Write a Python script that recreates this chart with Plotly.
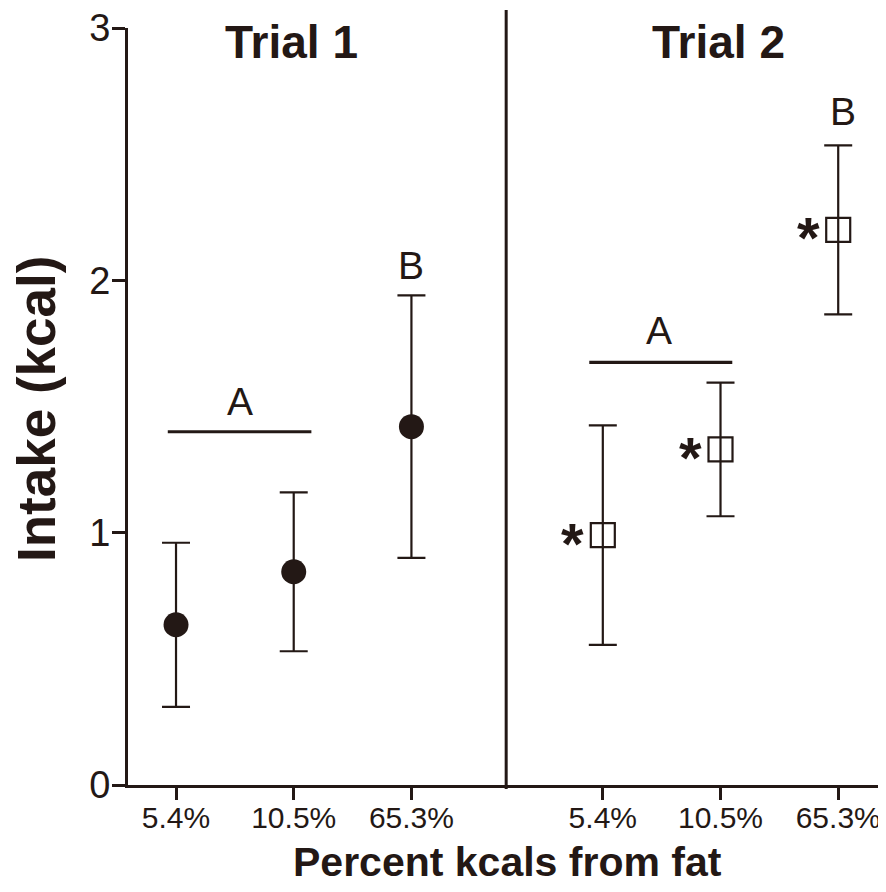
import plotly.graph_objects as go

# ---- data ----
categories = ["5.4%", "10.5%", "65.3%"]
trial_titles = ["Trial 1", "Trial 2"]

trial1_mean = [0.635, 0.845, 1.42]
trial1_err = [0.325, 0.315, 0.52]

trial2_mean = [0.99, 1.33, 2.20]
trial2_err = [0.435, 0.265, 0.335]

# significance groups
t1_letters = ["A", "B"]
t2_letters = ["A", "B"]
t1_sig_line_y = 1.40
t2_sig_line_y = 1.675

y_ticks = [0, 1, 2, 3]

# ---- layout helpers ----
INK = "#231815"
FONT = "Liberation Sans, Arial, sans-serif"
x_t1 = [0, 1, 2]
gap = 3.626
x_t2 = [v + gap for v in x_t1]
divider_x = 2.805
x_min, x_max = -0.408, 6.032

fig = go.Figure()

fig.add_trace(go.Scatter(
    x=x_t1, y=trial1_mean, mode="markers",
    marker=dict(symbol="circle", size=25, color=INK, line=dict(width=0)),
    error_y=dict(type="data", array=trial1_err, visible=True, color=INK,
                 thickness=2.2, width=14),
    showlegend=False, cliponaxis=False,
))
fig.add_trace(go.Scatter(
    x=x_t2, y=trial2_mean, mode="markers",
    marker=dict(symbol="square", size=24, color="rgba(255,255,255,0)",
                line=dict(width=2.2, color=INK)),
    error_y=dict(type="data", array=trial2_err, visible=True, color=INK,
                 thickness=2.2, width=14),
    showlegend=False, cliponaxis=False,
))

shapes = []
px_w = 886 - 128
px_h = 785 - 28
# divider
shapes.append(dict(type="line", xref="paper", yref="paper",
                   x0=(divider_x - x_min) / (x_max - x_min),
                   x1=(divider_x - x_min) / (x_max - x_min),
                   y0=-4 / px_h, y1=1 + 18 / px_h,
                   line=dict(color=INK, width=3)))
# significance lines
shapes.append(dict(type="line", xref="x", yref="y",
                   x0=x_t1[0] - 0.07, x1=x_t1[1] + 0.15,
                   y0=t1_sig_line_y, y1=t1_sig_line_y,
                   line=dict(color=INK, width=3.2)))
shapes.append(dict(type="line", xref="x", yref="y",
                   x0=x_t2[0] - 0.115, x1=x_t2[1] + 0.1,
                   y0=t2_sig_line_y, y1=t2_sig_line_y,
                   line=dict(color=INK, width=3.2)))

ann = []
# panel titles
for tx, xc in zip(trial_titles, [291, 718]):
    ann.append(dict(text="<b>%s</b>" % tx, xref="paper", yref="paper",
                    x=(xc - 128) / px_w, y=(785 - 42) / px_h,
                    xanchor="center", yanchor="middle", showarrow=False,
                    font=dict(family=FONT, size=46, color=INK)))
# letters
letter_font = dict(family=FONT, size=39, color=INK)
ann.append(dict(text=t1_letters[0], x=(x_t1[0] + x_t1[1]) / 2 + 0.04,
                y=t1_sig_line_y, yshift=30, xref="x", yref="y",
                showarrow=False, yanchor="middle", font=letter_font))
ann.append(dict(text=t1_letters[1], x=x_t1[2],
                y=trial1_mean[2] + trial1_err[2], yshift=30,
                xref="x", yref="y", showarrow=False, yanchor="middle",
                font=letter_font))
ann.append(dict(text=t2_letters[0], x=(x_t2[0] + x_t2[1]) / 2 - 0.02,
                y=t2_sig_line_y, yshift=32, xref="x", yref="y",
                showarrow=False, yanchor="middle", font=letter_font))
ann.append(dict(text=t2_letters[1], x=x_t2[2] + 0.04,
                y=trial2_mean[2] + trial2_err[2], yshift=34,
                xref="x", yref="y", showarrow=False, yanchor="middle",
                font=letter_font))
# asterisks
for xv, yv in zip(x_t2, trial2_mean):
    ann.append(dict(text="<b>*</b>", x=xv, y=yv, xshift=-30, yshift=-8,
                    xref="x", yref="y", showarrow=False,
                    xanchor="center", yanchor="middle",
                    font=dict(family=FONT, size=58, color=INK)))
# axis titles
ann.append(dict(text="<b>Intake (kcal)</b>", xref="paper", yref="paper",
                x=(37 - 128) / px_w, y=(785 - 409) / px_h, textangle=-90,
                xanchor="center", yanchor="middle", showarrow=False,
                font=dict(family=FONT, size=53, color=INK)))
ann.append(dict(text="<b>Percent kcals from fat</b>", xref="paper", yref="paper",
                x=(507 - 128) / px_w, y=(785 - 862) / px_h,
                xanchor="center", yanchor="middle", showarrow=False,
                font=dict(family=FONT, size=41, color=INK)))

# page body has an 8px default margin; compensate so the plot area lands
# at the same window pixels as the reference
fig.update_layout(
    width=878, height=876,
    margin=dict(l=120, r=0, t=20, b=99),
    plot_bgcolor="white", paper_bgcolor="white",
    shapes=shapes, annotations=ann,
    showlegend=False,
    xaxis=dict(range=[x_min, x_max], tickvals=x_t1 + x_t2,
               ticktext=categories + categories,
               showline=True, linecolor=INK, linewidth=3,
               ticks="outside", ticklen=12, tickwidth=2.5, tickcolor=INK,
               showgrid=False, zeroline=False,
               ticklabeloverflow="allow", ticklabelstandoff=-8,
               tickfont=dict(family=FONT, size=30, color=INK)),
    yaxis=dict(range=[0, 3], tickvals=y_ticks,
               showline=True, linecolor=INK, linewidth=3,
               ticks="outside", ticklen=13, tickwidth=2.5, tickcolor=INK,
               showgrid=False, zeroline=False,
               ticklabeloverflow="allow", ticklabelstandoff=-6,
               tickfont=dict(family=FONT, size=38, color=INK)),
)

fig.write_html("out.html")
